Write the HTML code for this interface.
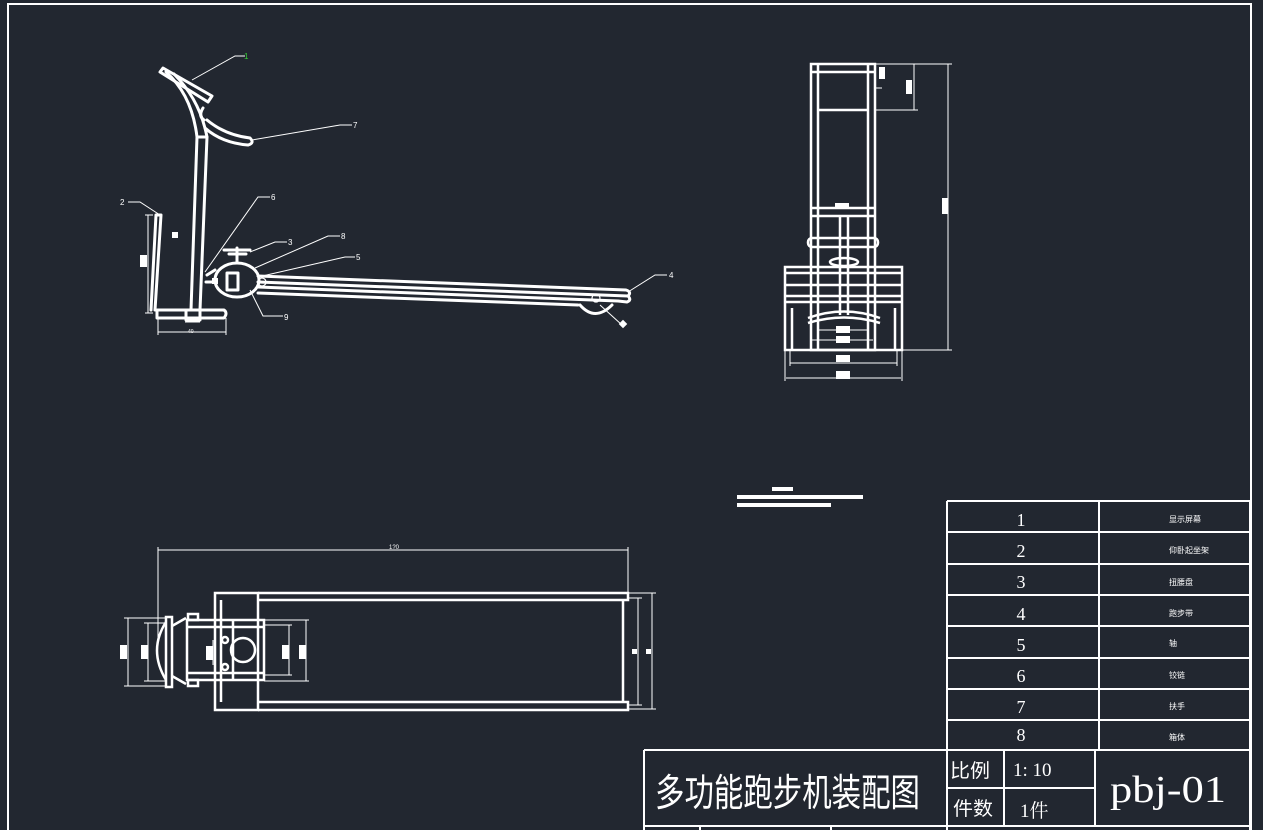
<!DOCTYPE html>
<html><head><meta charset="utf-8"><style>
html,body{margin:0;padding:0;background:#222730;}
svg{display:block}
text{font-family:"Liberation Sans","Noto Sans CJK SC",sans-serif;fill:#fff}
.s{font-family:"Liberation Serif","Noto Serif CJK SC",serif}
</style></head><body>
<svg width="1263" height="830" viewBox="0 0 1263 830" xmlns="http://www.w3.org/2000/svg">
<rect width="1263" height="830" fill="#222730"/>
<g fill="none" stroke="#fff">
<path d="M8 830 V4 H1251 V830" stroke-width="2"/>

<g stroke-width="3" stroke-linejoin="round" stroke-linecap="round">
<path d="M163 68 L212 96 L208 102 L160 72 Z"/>
<path d="M166 72 Q192 95 197 137 L191 310"/>
<path d="M174 74 Q200 100 207 137 L200 310"/>
<line x1="197" y1="137" x2="207" y2="137"/>
<path d="M207 120 Q225 135 250 138 Q255 143 248 145 Q222 143 205 128"/>
<path d="M203 108 Q198 116 204 120"/>
<path d="M156 215 L151 310 M161 215 L155 310 M156 215 H161"/>
<path d="M157 310 H224 Q228 313 224 318 H157 Z"/>
<rect x="186" y="310" width="14" height="10"/>
<ellipse cx="237" cy="280" rx="22" ry="17"/>
<rect x="227" y="273" width="11" height="17"/>
<path d="M224 250 H250 M229 254 H246 M237 248 V262"/>
<path d="M207 275 L215 270 M206 282 H215"/>
<path d="M258 276 L626 290 Q632 292 628 296 L258 282"/>
<path d="M258 287 L618 301 L627 302 Q632 300 628 296"/>
<path d="M258 293 L578 305"/>
<path d="M580 305 Q595 322 612 305"/>
</g>
<circle cx="596" cy="298" r="4" stroke-width="1.2"/>
<circle cx="262" cy="282" r="4" stroke-width="1.2"/>
<g stroke-width="1">
<path d="M148 215 V313 M145 215 H153 M145 313 H153"/>
<path d="M158 318 V335 M226 318 V335 M158 332 H226"/>
<path d="M185 322 H200"/>
<path d="M192 80 L235 56 H245"/>
<path d="M252 140 L340 125 H352"/>
<path d="M205 272 L258 197 H270"/>
<path d="M160 215 L140 202 H128"/>
<path d="M250 252 L275 242 H287"/>
<path d="M255 268 L328 236 H340"/>
<path d="M258 277 L345 257 H355"/>
<path d="M250 290 L263 316 H283"/>
<path d="M628 292 L655 275 H667"/>
<path d="M600 305 L622 325"/>
</g>

<g stroke-width="2.5">
<rect x="811" y="64" width="64" height="286"/>
<path d="M818 64 V350 M868 64 V350"/>
<path d="M811 72 H875 M818 110 H868 M811 208 H875 M811 216 H875"/>
<path d="M785 267 H902 V350 H785 Z"/>
<path d="M785 273 H902 M785 285 H902 M785 296 H902 M785 302 H902 M792 308 V350 M895 308 V350"/>
<path d="M840 216 V315 M848 216 V315"/>
<rect x="808" y="238" width="70" height="9" rx="4"/>
<ellipse cx="844" cy="262" rx="14" ry="4"/>
<path d="M808 318 Q844 305 880 318 M808 323 Q844 312 880 323"/>
</g>
<g stroke-width="1">
<path d="M875 64 H952 M902 350 H952 M948 64 V350"/>
<path d="M875 110 H918 M914 64 V110 M875 88 H882"/>
<path d="M790 350 V366 M897 350 V366 M790 363 H897"/>
<path d="M785 350 V381 M902 350 V381 M786 378 H901"/>
<path d="M817 330 H868 M812 340 H873"/>
</g>

<g stroke-width="2.5">
<rect x="215" y="593" width="43" height="117"/>
<path d="M221 600 V702"/>
<path d="M258 593 H628 V600 H258 M258 702 H628 V710 H258 M623 600 V702"/>
<rect x="187" y="620" width="77" height="60"/>
<path d="M187 627 H264 M187 673 H264 M233 620 V680"/>
<circle cx="243" cy="650" r="12"/>
<circle cx="225" cy="640" r="3"/>
<circle cx="225" cy="667" r="3"/>
<rect x="166" y="617" width="6" height="70"/>
<path d="M166 622 Q148 650 166 680"/>
<path d="M172 626 L186 618 M172 676 L186 684"/>
<rect x="188" y="614" width="10" height="6"/><rect x="188" y="680" width="10" height="6"/>
</g>
<g stroke-width="1">
<path d="M158 550 H628 M158 547 V640 M628 547 V593"/>
<path d="M128 618 V686 M124 618 H166 M124 686 H166"/>
<path d="M148 623 V681 M144 623 H166 M144 681 H166"/>
<path d="M213 640 V665 M289 625 V675 M264 625 H292 M264 675 H292 M306 620 V681 M264 620 H309 M264 681 H309"/>
<path d="M628 598 H642 M638 598 V705 M628 705 H642 M628 593 H656 M652 593 V709 M628 709 H656"/>
</g>

<g stroke-width="2">
<path d="M947 501 H1250 V750 M947 501 V750 M1099 501 V750"/>
<path d="M947 532 H1250 M947 564 H1250 M947 595 H1250 M947 626 H1250 M947 658 H1250 M947 689 H1250 M947 720 H1250"/>
<path d="M644 750 H1250 M644 750 V830 M947 750 V830 M1004 750 V826 M1095 750 V826 M1250 750 V830 M947 788 H1095 M644 826 H1250 M700 826 V830 M831 826 V830"/>
</g>
</g>

<g fill="#fff">
<rect x="772" y="487" width="21" height="4"/>
<rect x="737" y="495" width="126" height="4"/>
<rect x="737" y="503" width="94" height="4"/>
<rect x="140" y="255" width="7" height="12"/>
<rect x="172" y="232" width="6" height="6"/>
<rect x="212" y="278" width="6" height="6"/>
<rect x="620" y="321" width="6" height="6" transform="rotate(45 623 324)"/>
<rect x="942" y="198" width="6" height="16"/>
<rect x="906" y="80" width="6" height="14"/>
<rect x="879" y="67" width="6" height="12"/>
<rect x="836" y="355" width="14" height="7"/>
<rect x="836" y="371" width="14" height="8"/>
<rect x="836" y="326" width="14" height="7"/>
<rect x="836" y="336" width="14" height="7"/>
<rect x="835" y="203" width="14" height="6"/>
<rect x="120" y="645" width="7" height="14"/>
<rect x="141" y="645" width="7" height="14"/>
<rect x="206" y="646" width="7" height="14"/>
<rect x="282" y="645" width="7" height="14"/>
<rect x="299" y="645" width="7" height="14"/>
<rect x="632" y="649" width="5" height="5"/>
<rect x="646" y="649" width="5" height="5"/>
</g>

<g font-size="8">
<text x="244" y="59" style="fill:#3c3">1</text>
<text x="353" y="128">7</text>
<text x="271" y="200">6</text>
<text x="120" y="205">2</text>
<text x="288" y="245">3</text>
<text x="341" y="239">8</text>
<text x="356" y="260">5</text>
<text x="284" y="320">9</text>
<text x="669" y="278">4</text>
<text x="188" y="333" font-size="5">40</text>
<text x="389" y="549" font-size="6">1?0</text>
</g>

<g font-size="18" text-anchor="middle">
<text class="s" x="1021" y="526">1</text>
<text class="s" x="1021" y="557">2</text>
<text class="s" x="1021" y="588">3</text>
<text class="s" x="1021" y="620">4</text>
<text class="s" x="1021" y="651">5</text>
<text class="s" x="1021" y="682">6</text>
<text class="s" x="1021" y="713">7</text>
<text class="s" x="1021" y="741">8</text>
</g>
<g font-size="8">
<text x="1169" y="522">显示屏幕</text>
<text x="1169" y="553">仰卧起坐架</text>
<text x="1169" y="585">扭腰盘</text>
<text x="1169" y="616">跑步带</text>
<text x="1169" y="646">轴</text>
<text x="1169" y="678">铰链</text>
<text x="1169" y="709">扶手</text>
<text x="1169" y="740">箱体</text>
</g>
<text x="655" y="806" font-size="38" textLength="265" lengthAdjust="spacingAndGlyphs" style="font-family:'Noto Sans CJK SC',sans-serif">多功能跑步机装配图</text>
<text x="950" y="777" font-size="19" textLength="40" lengthAdjust="spacingAndGlyphs" style="font-family:'Noto Sans CJK SC',sans-serif">比例</text>
<text x="953" y="815" font-size="19" textLength="40" lengthAdjust="spacingAndGlyphs" style="font-family:'Noto Sans CJK SC',sans-serif">件数</text>
<text class="s" x="1013" y="776" font-size="19">1: 10</text>
<text class="s" x="1020" y="817" font-size="19">1件</text>
<text class="s" x="1110" y="802" font-size="38" textLength="116" lengthAdjust="spacingAndGlyphs">pbj-01</text>
</svg>
</body></html>
